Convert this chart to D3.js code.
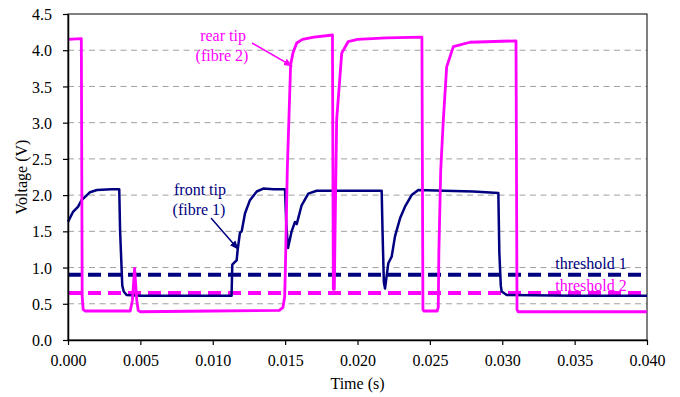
<!DOCTYPE html>
<html><head><meta charset="utf-8">
<script src="https://cdn.jsdelivr.net/npm/d3@7"></script>
<style>body{margin:0;background:#fff}svg{display:block}svg text{font-family:'Liberation Serif','Times New Roman','DejaVu Serif',serif !important}</style>
</head><body>
<script>
// time in ms (displayed as seconds), voltage in V
const xTicks = [0, 0.005, 0.010, 0.015, 0.020, 0.025, 0.030, 0.035, 0.040];
const yTicks = [0, 0.5, 1.0, 1.5, 2.0, 2.5, 3.0, 3.5, 4.0, 4.5];
const threshold1 = 0.9;
const threshold2 = 0.65;

const frontTipT = [0,0.35,0.7,0.94,1.2,1.52,2.0,3.0,3.54,3.6,3.75,3.85,4.06,5,8,11.3,11.35,11.5,11.65,11.72,11.88,12.0,12.23,12.57,13.04,13.49,14.2,14.99,15.08,15.2,15.45,15.68,15.8,16.14,16.6,17.18,19,21.67,21.73,21.82,21.9,22.13,22.36,22.59,22.94,23.28,23.74,24.2,26,28,29.73,29.8,29.9,29.96,30.31,35,40];
const frontTipV = [1.63,1.77,1.84,1.93,1.98,2.04,2.07,2.08,2.08,1.5,0.75,0.67,0.62,0.61,0.61,0.61,1.04,1.07,1.10,1.24,1.48,1.5,1.75,1.93,2.05,2.09,2.08,2.08,1.6,1.27,1.50,1.63,1.60,1.86,2.02,2.06,2.06,2.06,1.5,0.8,0.71,1.06,1.15,1.43,1.68,1.84,2.0,2.07,2.06,2.05,2.03,1.2,0.75,0.67,0.62,0.61,0.61];

const rearTipT = [0,0.92,0.98,1.05,1.2,4.3,4.45,4.6,4.75,4.85,5.0,10,14.6,14.85,14.97,15.02,15.15,15.38,15.55,15.8,16.2,17.0,18.27,18.33,18.4,18.45,18.56,18.91,19.36,20,22,24.45,24.52,24.6,25.5,25.58,25.62,25.75,25.93,26.16,26.62,27.77,30.95,31.02,31.1,40];
const rearTipV = [4.15,4.16,0.6,0.42,0.40,0.40,0.55,0.99,0.55,0.41,0.39,0.40,0.41,0.45,0.6,1.0,2.35,3.8,3.97,4.1,4.15,4.18,4.21,0.7,0.70,1.5,3.04,3.96,4.12,4.15,4.17,4.18,0.42,0.40,0.40,0.45,1.2,2.35,3.04,3.77,4.05,4.11,4.13,0.42,0.39,0.39];

const FONT = "'Liberation Serif','Times New Roman','DejaVu Serif',serif";
const W = 680, H = 397;
const m = {left: 68, right: 647, top: 14, bottom: 340};
const svg = d3.select("body").append("svg").attr("width", W).attr("height", H).attr("font-family", FONT);
const x = d3.scaleLinear().domain([0, 0.040]).range([m.left, m.right]);
const y = d3.scaleLinear().domain([0, 4.5]).range([m.bottom, m.top]);

// gridlines
svg.append("g").selectAll("line").data(yTicks.filter(v => v > 0 && v < 4.5)).join("line")
  .attr("x1", m.left).attr("x2", m.right).attr("y1", d => y(d)).attr("y2", d => y(d))
  .attr("stroke", "#a0a0a0").attr("stroke-width", 1).attr("stroke-dasharray", "6,4.5");

// frame
svg.append("rect").attr("x", m.left).attr("y", m.top).attr("width", m.right - m.left).attr("height", m.bottom - m.top)
  .attr("fill", "none").attr("stroke", "#000").attr("stroke-width", 1);

// thresholds
svg.append("line").attr("x1", m.left).attr("x2", m.right).attr("y1", y(threshold1)).attr("y2", y(threshold1))
  .attr("stroke", "#000080").attr("stroke-width", 4).attr("stroke-dasharray", "13,7");
svg.append("line").attr("x1", m.left).attr("x2", m.right).attr("y1", y(threshold2)).attr("y2", y(threshold2))
  .attr("stroke", "#FF00FF").attr("stroke-width", 4).attr("stroke-dasharray", "13,7");

const line = d3.line().x(d => x(d[0] / 1000)).y(d => y(d[1]));
const front = frontTipT.map((t, i) => [t, frontTipV[i]]);
const rear = rearTipT.map((t, i) => [t, rearTipV[i]]);
svg.append("path").attr("d", line(front)).attr("fill", "none").attr("stroke", "#000080").attr("stroke-width", 2.5).attr("stroke-linejoin", "round");
svg.append("path").attr("d", line(rear)).attr("fill", "none").attr("stroke", "#FF00FF").attr("stroke-width", 2.8).attr("stroke-linejoin", "round");

// axes
const xAxis = d3.axisBottom(x).tickValues(xTicks).tickFormat(d3.format(".3f")).tickSize(5).tickSizeOuter(0);
const gx = svg.append("g").attr("transform", `translate(0,${m.bottom})`).call(xAxis);
const yAxis = d3.axisLeft(y).tickValues(yTicks).tickFormat(d3.format(".1f")).tickSize(5).tickSizeOuter(0);
const gy = svg.append("g").attr("transform", `translate(${m.left},0)`).call(yAxis);
[gx, gy].forEach(g => {
  g.attr("font-family", FONT).attr("font-size", 16);
  g.select(".domain").attr("stroke", "#000").attr("stroke-width", 1.5);
  g.selectAll(".tick line").attr("stroke", "#000").attr("stroke-width", 1.2);
  g.selectAll(".tick text").attr("font-size", 16).attr("fill", "#000").attr("font-family", FONT);
});
gx.selectAll(".tick text").attr("dy", "1.1em");
gy.selectAll(".tick text").attr("dx", "-0.5em").attr("dy", "0.35em");

const T = (xx, yy, s, c) => svg.append("text").attr("x", xx).attr("y", yy).attr("text-anchor", "middle")
  .attr("font-size", 16).attr("font-family", FONT).attr("fill", c || "#000").text(s);
T((m.left + m.right) / 2, 389, "Time (s)");
svg.append("text").attr("transform", `translate(27,${(m.top + m.bottom) / 2}) rotate(-90)`).attr("text-anchor", "middle")
  .attr("font-size", 16).attr("font-family", FONT).text("Voltage (V)");

// annotations
const defs = svg.append("defs");
[["arrM", "#FF00FF"], ["arrN", "#000080"]].forEach(([id, c]) => {
  defs.append("marker").attr("id", id).attr("viewBox", "0 0 10 10").attr("refX", 9).attr("refY", 5)
    .attr("markerWidth", 6).attr("markerHeight", 6).attr("orient", "auto")
    .append("path").attr("d", "M0,1 L10,5 L0,9 z").attr("fill", c);
});
T(223, 41, "rear tip", "#FF00FF");
T(222, 61, "(fibre 2)", "#FF00FF");
svg.append("line").attr("x1", 252).attr("y1", 43).attr("x2", 292).attr("y2", 66).attr("stroke", "#FF00FF").attr("stroke-width", 1.5).attr("marker-end", "url(#arrM)");
T(200, 195, "front tip", "#000080");
T(199, 215, "(fibre 1)", "#000080");
svg.append("line").attr("x1", 211).attr("y1", 218).attr("x2", 238).attr("y2", 249).attr("stroke", "#000080").attr("stroke-width", 1.5).attr("marker-end", "url(#arrN)");
T(591, 269, "threshold 1", "#000080");
T(591, 291, "threshold 2", "#FF00FF");
</script>
</body></html>
